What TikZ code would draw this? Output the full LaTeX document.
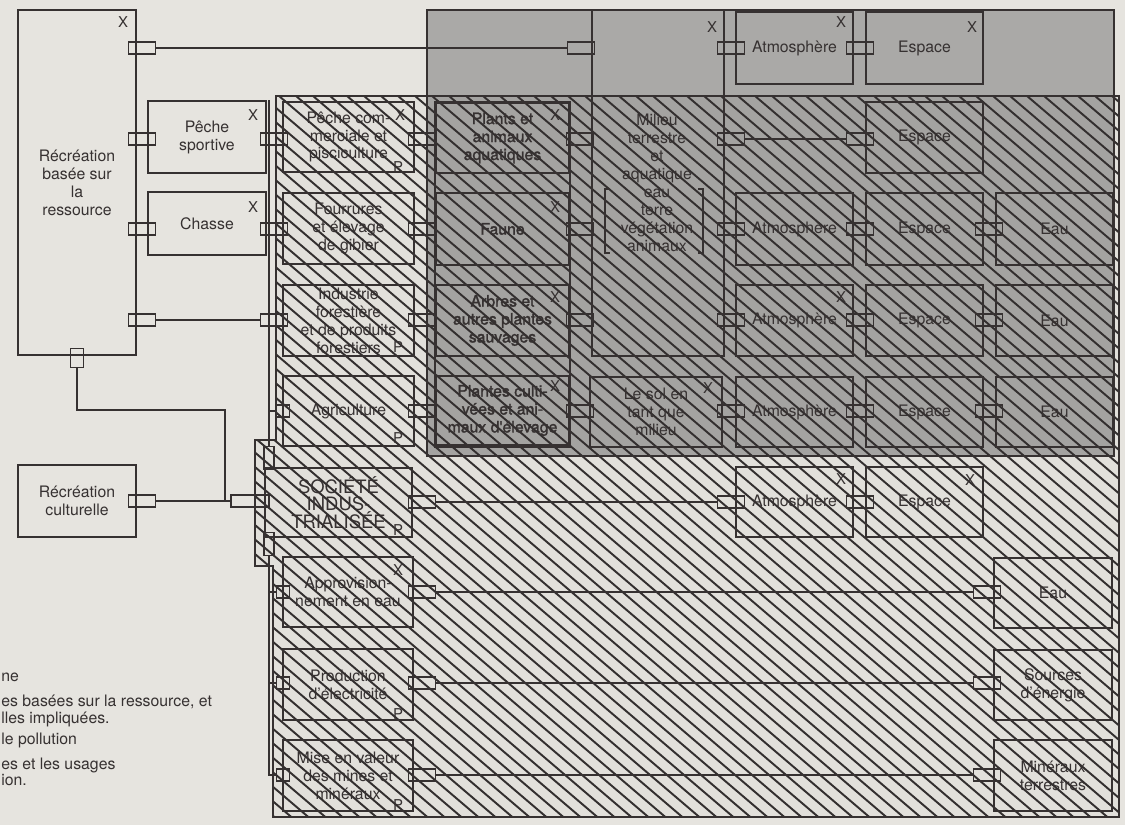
\documentclass[tikz,border=0pt]{standalone}
\usepackage{fontspec}
\setmainfont{TeX Gyre Heros}
\newfontfamily\heavyfont[FakeBold=1.6]{TeX Gyre Heros}
\definecolor{paper}{HTML}{E6E4DF}
\definecolor{hatchbg}{HTML}{E2E0DB}
\definecolor{envgrey}{HTML}{A4A3A1}
\definecolor{bandgrey}{HTML}{AAA9A7}
\definecolor{ink}{HTML}{363131}
\definecolor{hatchink}{HTML}{332F2F}
\newcommand\diagtext{\fontsize{9}{10.2}\selectfont}
\begin{document}
\begin{tikzpicture}[x=0.2mm,y=-0.2mm,
  cell/.style n args={4}{minimum width={(#3-#1)*0.2mm}, minimum height={(#4-#2)*0.2mm},
    at={({(#1+#3)/2},{(#2+#4)/2})}},
  box/.style={draw=ink, line width=0.6pt, inner sep=0pt, align=center, font=\diagtext, text=ink},
  heavybox/.style={draw=ink, line width=1.7pt, inner sep=0pt},
  flora/.style={box, font=\diagtext\heavyfont},
  conn/.style={draw=ink, line width=0.6pt, inner sep=0pt, minimum width=5.3mm, minimum height=2.4mm},
  wideconn/.style={conn, minimum width=7.6mm},
  stubconn/.style={conn, minimum width=2.6mm},
  vconn/.style={conn, minimum width=2.6mm, minimum height=3.9mm},
  sconn/.style={conn, minimum width=2mm, minimum height=4.6mm},
  link/.style={draw=ink, line width=0.6pt},
  corner/.style={text=ink, inner sep=0pt, font=\fontsize{8.5}{9}\selectfont},
  legend/.style={text=ink, inner sep=0pt, anchor=base west, font=\diagtext},
  hatch/.style={draw=hatchink, line width=1.1pt},
  outline/.style={draw=ink, line width=1.7pt}
]
\useasboundingbox (0,0) rectangle (1125,825);
\fill[paper] (0,0) rectangle (1125,825);

% hatched field of the industrial society
\fill[hatchbg] (276,96) -- (1119,96) -- (1119,817) -- (273,817) -- (273,566)
  -- (255,566) -- (255,440) -- (276,440) -- cycle;
% grey zones: natural environment and upper band
\fill[envgrey] (427,96) rectangle (1113,456);
\fill[bandgrey] (427,10) rectangle (1114,96);

\begin{scope}
  \clip (276,96) -- (1119,96) -- (1119,817) -- (273,817) -- (273,566)
    -- (255,566) -- (255,440) -- (276,440) -- cycle;
  \foreach \k in {-42,...,68} {\draw[hatch] (\k*17,90) -- ++(1020,870);}
\end{scope}

% outlines of the zones
\draw[outline] (276,96) -- (1119,96) -- (1119,817) -- (273,817) -- (273,566)
  -- (255,566) -- (255,440) -- (276,440) -- cycle;
\draw[outline] (427,10) rectangle (1114,456);
\draw[link] (269,100) -- (269,440);

% left column: recreation
\node[box, cell={18}{10}{136}{355}] (rec) {Récréation\\basée sur\\la\\ressource};
\node[box, cell={148}{101}{266}{173}] (ps) {Pêche\\sportive};
\node[box, cell={148}{192}{266}{255}] (ch) {Chasse};
\node[box, cell={18}{465}{136}{537}] (cult) {Récréation\\culturelle};

% industries
\node[box, cell={283}{102}{414}{172}] (pcom) {Pêche com-\\merciale et\\pisciculture};
\node[box, cell={283}{193}{414}{264}] (four) {Fourrures\\et élevage\\de gibier};
\node[box, cell={283}{285}{414}{356}] (indf) {Industrie\\forestière\\et de produits\\forestiers};
\node[box, cell={283}{376}{414}{446}] (agri) {Agriculture};
\node[heavybox, cell={265}{468}{412}{537}, align=center, text=ink,
  font=\fontsize{10.5}{10}\selectfont] (soc) {SOCIÉTÉ\\INDUS-\\TRIALISÉE};
\node[box, cell={283}{557}{413}{627}] (appro) {Approvision-\\nement en eau};
\node[box, cell={283}{649}{413}{720}] (prod) {Production\\d'électricité};
\node[box, cell={283}{740}{413}{811}] (mine) {Mise en valeur\\des mines et\\minéraux};

% living resources
\node[flora, cell={436}{103}{569}{173}] (plants) {Plants et\\animaux\\aquatiques};
\node[flora, cell={436}{193}{569}{265}] (faune) {Faune};
\node[flora, cell={436}{285}{569}{356}] (arbres) {Arbres et\\autres plantes\\sauvages};
\node[flora, cell={436}{376}{569}{445}] (cultiv) {Plantes culti-\\vées et ani-\\maux d'élevage};
\node[heavybox, cell={435}{102}{570}{447}] (floracol) {};

% milieu
\node[box, cell={592}{10}{724}{356}] (milieu) {};
\node[text=ink, font=\diagtext, align=center, inner sep=0pt] (milieutxt) at (657,183)
  {Milieu\\terrestre\\et\\aquatique\\eau\\terre\\végétation\\animaux};
\draw[link] (610,189) -- (605,189) -- (605,253) -- (610,253);
\draw[link] (698,189) -- (703,189) -- (703,253) -- (698,253);
\node[box, cell={590}{377}{722}{447}] (sol) {Le sol en\\tant que\\milieu};

% atmosphere
\node[box, cell={736}{12}{853}{84}] (atm0) {Atmosphère};
\node[box, cell={736}{193}{853}{265}] (atm2) {Atmosphère};
\node[box, cell={736}{285}{853}{356}] (atm3) {Atmosphère};
\node[box, cell={736}{377}{853}{447}] (atm4) {Atmosphère};
\node[box, cell={736}{467}{853}{537}] (atm5) {Atmosphère};

% space
\node[box, cell={866}{12}{983}{84}] (esp0) {Espace};
\node[box, cell={866}{102}{983}{173}] (esp1) {Espace};
\node[box, cell={866}{193}{983}{265}] (esp2) {Espace};
\node[box, cell={866}{285}{983}{356}] (esp3) {Espace};
\node[box, cell={866}{377}{983}{447}] (esp4) {Espace};
\node[box, cell={866}{467}{983}{537}] (esp5) {Espace};

% water and other resources
\node[box, cell={996}{193}{1113}{265}] (eau2) {Eau};
\node[box, cell={996}{285}{1113}{356}] (eau3) {Eau};
\node[box, cell={996}{377}{1113}{447}] (eau4) {Eau};
\node[box, cell={994}{558}{1112}{628}] (eau6) {Eau};
\node[box, cell={994}{650}{1112}{720}] (nrg) {Sources\\d'énergie};
\node[box, cell={994}{740}{1112}{811}] (minr) {Minéraux\\terrestres};

% X and P marks
\node[corner] (xrec) at (123,22) {X};
\node[corner] (xps) at (253,115) {X};
\node[corner] (xch) at (253,207) {X};
\node[corner] (xpcom) at (400,115) {X};
\node[corner] (xappro) at (398,570) {X};
\node[corner] (xplants) at (555,115) {X};
\node[corner] (xfaune) at (555,207) {X};
\node[corner] (xarbres) at (555,297) {X};
\node[corner] (xcultiv) at (555,386) {X};
\node[corner] (xsol) at (708,388) {X};
\node[corner] (xmilieu) at (712,27) {X};
\node[corner] (xatm0) at (841,22) {X};
\node[corner] (xatm3) at (841,297) {X};
\node[corner] (xatm5) at (841,479) {X};
\node[corner] (xesp0) at (972,27) {X};
\node[corner] (xesp5) at (970,480) {X};
\node[corner] (ppcom) at (398,167) {P};
\node[corner] (pindf) at (398,347) {P};
\node[corner] (pagri) at (398,438) {P};
\node[corner] (psoc) at (398,530) {P};
\node[corner] (pprod) at (398,714) {P};
\node[corner] (pmine) at (398,805) {P};

% interfaces
\node[conn] (cR47) at (142,48) {};
\node[conn] (cR140) at (142,139) {};
\node[conn] (cR228) at (142,229) {};
\node[conn] (cR320) at (142,320) {};
\node[vconn] (cRb) at (77,358) {};
\node[conn] (cCult) at (142,501) {};
\node[conn] (cPs) at (274,139) {};
\node[conn] (cCh) at (274,229) {};
\node[conn] (cIndL) at (274,320) {};
\node[wideconn] (cSocL) at (250,501) {};
\foreach \r in {139,229,320,411,502,592,683,775} {\node[conn] (cI\r) at (422,\r) {};}
\foreach \r in {139,229,320,411} {\node[conn] (cF\r) at (580,\r) {};}
\node[conn] (cT48) at (581,48) {};
\foreach \r in {48,139,229,320,411,502} {\node[conn] (cM\r) at (731,\r) {};}
\foreach \r in {48,139,229,320,411,502} {\node[conn] (cA\r) at (860,\r) {};}
\foreach \r in {229,320,411} {\node[conn] (cE\r) at (989,\r) {};}
\foreach \r in {592,683,775} {\node[conn] (cW\r) at (987,\r) {};}
\node[stubconn] (cAgL) at (283,411) {};
\node[stubconn] (cApL) at (283,592) {};
\node[stubconn] (cPrL) at (283,683) {};
\node[stubconn] (cMiL) at (283,775) {};
\node[sconn] (cSt) at (269,458) {};
\node[sconn] (cSb) at (269,544) {};

% links
\draw[link] (cR47.east) -- (cT48.west);
\draw[link] (cR320.east) -- (cIndL.west);
\coordinate (bend) at (225,410);
\coordinate (join) at (225,501);
\draw[link] (cRb.south) |- (bend) -- (join);
\draw[link] (cCult.east) -- (cSocL.west);
\draw[link] (cM139.east) -- (cA139.west);
\draw[link] (cI502.east) -- (cM502.west);
\draw[link] (cI592.east) -- (cW592.west);
\draw[link] (cI683.east) -- (cW683.west);
\draw[link] (cI775.east) -- (cW775.west);
\draw[link] (cAgL.west) -| (cSt.north);
\draw[link] (cSb.south) |- (cMiL.west);
\draw[link] (cApL.west) -- (cApL.west -| cSb.south);
\draw[link] (cPrL.west) -- (cPrL.west -| cSb.south);

% legend lines
\node[legend] (lg1) at (1,681) {ne};
\node[legend] (lg2) at (1,706) {es basées sur la ressource, et};
\node[legend] (lg3) at (1,723) {lles impliquées.};
\node[legend] (lg4) at (1,744) {le pollution};
\node[legend] (lg5) at (1,769) {es et les usages};
\node[legend] (lg6) at (1,785) {ion.};
\end{tikzpicture}
\end{document}
